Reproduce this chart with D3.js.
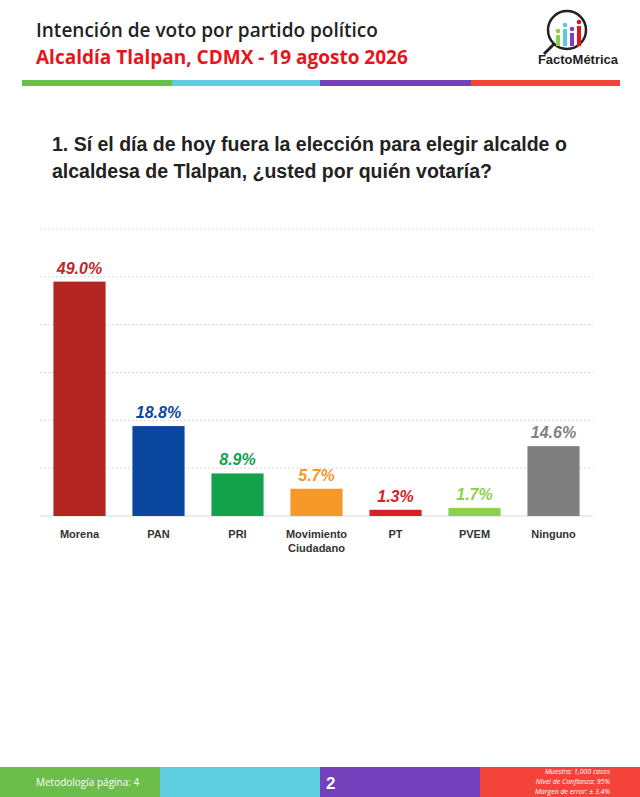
<!doctype html>
<html><head><meta charset="utf-8">
<script src="https://cdn.jsdelivr.net/npm/d3@7"></script>
<style>body{margin:0;background:#fff;font-family:Calibri,Carlito,"Open Sans",sans-serif}</style>
</head><body><svg id="c" width="640" height="797"></svg>
<script>
const parties = ["Morena","PAN","PRI","Movimiento Ciudadano","PT","PVEM","Ninguno"];
const values = [49.0,18.8,8.9,5.7,1.3,1.7,14.6];
const colors = ["#b22520","#0a47a0","#13a14c","#f6982a","#d52127","#8dcf4f","#7f7f7f"];
const labelColors = ["#c0282b","#0d46a0","#13a14c","#f6982a","#d52127","#8dcf4f","#7f7f7f"];
const ticks = [0,10,20,30,40,50,60];

const svg = d3.select("#c");
const f = "'Liberation Sans',Arial,sans-serif";
svg.append("text").attr("x",36).attr("y",37).attr("font-family","'Open Sans',sans-serif").attr("font-size",19).attr("font-weight",600).attr("fill","#222").text("Intención de voto por partido político");
svg.append("text").attr("x",36).attr("y",64).attr("font-family","'Open Sans',sans-serif").attr("font-size",19).attr("font-weight",700).attr("fill","#e8141b").text("Alcaldía Tlalpan, CDMX - 19 agosto 2026");

// logo
const lg = svg.append("g");
lg.append("circle").attr("cx",567).attr("cy",30).attr("r",19).attr("fill","none").attr("stroke","#222").attr("stroke-width",2.5);
lg.append("line").attr("x1",554).attr("y1",44).attr("x2",544).attr("y2",54).attr("stroke","#222").attr("stroke-width",3);
[["#8dcf4f",556,31],["#5bc9df",563,25],["#7b3fbf",570,29],["#e8141b",577,22]].forEach(([c,x,y])=>{
  lg.append("rect").attr("x",x).attr("y",y+4).attr("width",4).attr("height",42-y).attr("fill",c);
  lg.append("circle").attr("cx",x+2).attr("cy",y).attr("r",2.3).attr("fill",c);});
svg.append("text").attr("x",578).attr("y",64).attr("text-anchor","middle").attr("font-family",f).attr("font-size",13).attr("font-weight",700).attr("fill","#222").text("FactoMétrica");

const stripes = [["#6cbd4a",22,172],["#5ecde0",172,320],["#7440bb",320,471],["#f4433b",471,620]];
stripes.forEach(([c,a,b])=>svg.append("rect").attr("x",a).attr("y",80).attr("width",b-a).attr("height",6).attr("fill",c));

const q = svg.append("text").attr("font-family",f).attr("font-size",19.5).attr("font-weight",700).attr("fill","#222");
q.append("tspan").attr("x",52).attr("y",151).text("1. Sí el día de hoy fuera la elección para elegir alcalde o");
q.append("tspan").attr("x",52).attr("y",178).text("alcaldesa de Tlalpan, ¿usted por quién votaría?");

const x = d3.scaleBand().domain(parties).range([40,593]).paddingInner(0.34).paddingOuter(0.17);
const y = d3.scaleLinear().domain([0,60]).range([516,229]);

svg.append("g").selectAll("line").data(ticks.slice(1)).join("line")
  .attr("x1",40).attr("x2",593).attr("y1",d=>y(d)).attr("y2",d=>y(d))
  .attr("stroke","#d9d9d9").attr("stroke-dasharray","2,2");
svg.append("line").attr("x1",40).attr("x2",593).attr("y1",y(0)).attr("y2",y(0)).attr("stroke","#d9d9d9");

svg.append("g").selectAll("rect").data(values).join("rect")
  .attr("x",(d,i)=>x(parties[i])).attr("width",x.bandwidth())
  .attr("y",d=>y(d)).attr("height",d=>y(0)-y(d)).attr("fill",(d,i)=>colors[i]);
svg.append("g").selectAll("text").data(values).join("text")
  .attr("x",(d,i)=>x(parties[i])+x.bandwidth()/2).attr("y",d=>y(d)-8)
  .attr("text-anchor","middle").attr("font-family",f).attr("font-size",16).attr("font-weight",700).attr("font-style","italic")
  .attr("fill",(d,i)=>labelColors[i]).text(d=>d.toFixed(1)+"%");

const xl = svg.append("g").selectAll("text").data(parties).join("text")
  .attr("text-anchor","middle").attr("font-family",f).attr("font-size",11).attr("font-weight",700).attr("fill","#333")
  .attr("transform",d=>`translate(${x(d)+x.bandwidth()/2},538)`);
xl.each(function(d){const w=d.split(" ");d3.select(this).selectAll("tspan").data(w).join("tspan").attr("x",0).attr("dy",(s,i)=>i?14:0).text(s=>s);});

const foot = [["#6cbd4a",0,160],["#5ecde0",160,320],["#7440bb",320,480],["#f4433b",480,640]];
foot.forEach(([c,a,b])=>svg.append("rect").attr("x",a).attr("y",767).attr("width",b-a).attr("height",30).attr("fill",c));
svg.append("text").attr("x",36).attr("y",786).attr("font-family","'Open Sans',sans-serif").attr("font-size",10).attr("fill","#fff").text("Metodología página: 4");
svg.append("text").attr("x",326).attr("y",789).attr("font-family",f).attr("font-size",17).attr("font-weight",700).attr("fill","#fff").text("2");
["Muestra:  1,000 casos","Nivel de Confianza: 95%","Margen de error: ± 3.4%"].forEach((s,i)=>
  svg.append("text").attr("x",610).attr("y",774+i*10).attr("text-anchor","end").attr("font-family","'Open Sans',sans-serif").attr("font-size",7).attr("font-style","italic").attr("fill","#fff").text(s));
</script></body></html>
